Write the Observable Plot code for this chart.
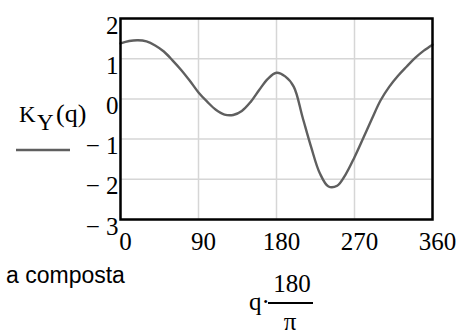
<!DOCTYPE html>
<html>
<head>
<meta charset="utf-8">
<script src="https://cdn.jsdelivr.net/npm/d3@7"></script>
<script src="https://cdn.jsdelivr.net/npm/@observablehq/plot@0.6"></script>
<style>
  html, body { margin: 0; padding: 0; background: #fff; }
  #wrap { position: relative; width: 459px; height: 336px; overflow: hidden; }
  #wrap > svg { position: absolute; left: 0; top: 0; }
  #wrap svg text { font-family: 'Liberation Serif', 'Times New Roman', serif; }
  #wrap svg text.sans { font-family: 'Liberation Sans', Arial, sans-serif; }
</style>
</head>
<body>
<div id="wrap"></div>
<script>
// angle q·180/π in degrees
const angles = [0,10,20,30,40,50,60,70,80,90,100,110,120,130,140,150,160,170,180,
                190,200,210,220,230,240,250,260,270,280,290,300,310,320,330,340,350,360];
// K_Y(q)
const kY = [1.38,1.44,1.46,1.43,1.33,1.18,0.96,0.72,0.45,0.16,-0.07,-0.27,-0.39,-0.40,-0.30,-0.08,0.22,0.50,0.65,
            0.56,0.30,-0.45,-1.20,-1.85,-2.18,-2.16,-1.87,-1.45,-0.98,-0.50,-0.04,0.30,0.57,0.80,1.02,1.20,1.35];
const xTicks = [0, 90, 180, 270, 360];
const yTicks = [-3, -2, -1, 0, 1, 2];
const legendLabel = "K";
const legendSub = "Y";
const legendArg = "(q)";
const captionText = "a composta";
const xLabelVar = "q·";
const xLabelNum = "180";
const xLabelDen = "π";

const data = angles.map((a, i) => ({deg: a, k: kY[i]}));
const serif = "Liberation Serif";
const sans = "Liberation Sans";

const chart = Plot.plot({
  width: 459,
  height: 336,
  marginTop: 18,
  marginBottom: 117,
  marginLeft: 120,
  marginRight: 27,
  style: {fontFamily: serif, fontSize: "25px", background: "white", color: "black"},
  x: {domain: [0, 360]},
  y: {domain: [-3, 2]},
  marks: [
    Plot.gridX(xTicks, {stroke: "#d6d6d6", strokeOpacity: 1, strokeWidth: 1.5}),
    Plot.gridY(yTicks, {stroke: "#d6d6d6", strokeOpacity: 1, strokeWidth: 1.5}),
    Plot.line(data, {x: "deg", y: "k", stroke: "#5f5f5f", strokeWidth: 2.4, curve: "catmull-rom"}),
    Plot.frame({stroke: "black", strokeWidth: 2.5}),
    Plot.axisX(xTicks, {tickSize: 0, tickPadding: 13, dx: 5, label: null, fontSize: 25, fontFamily: serif, fill: "black"}),
    Plot.axisY(yTicks, {tickSize: 0, tickPadding: 2, dy: 7, label: null, fontSize: 25, fontFamily: serif, fill: "black",
      tickFormat: d => d < 0 ? "\u2212 " + Math.abs(d) : String(d)})
  ]
});
const wrap = document.getElementById("wrap");
wrap.appendChild(chart);

// annotation overlay: legend, caption fragment, x-axis expression
const ns = "http://www.w3.org/2000/svg";
const ov = document.createElementNS(ns, "svg");
ov.setAttribute("width", 459);
ov.setAttribute("height", 336);
ov.style.pointerEvents = "none";
function txt(x, y, s, cls, size, anchor) {
  const t = document.createElementNS(ns, "text");
  t.setAttribute("x", x); t.setAttribute("y", y);
  if (cls) t.setAttribute("class", cls);
  t.setAttribute("font-size", size);
  if (anchor) t.setAttribute("text-anchor", anchor);
  t.setAttribute("fill", "black");
  t.textContent = s;
  ov.appendChild(t);
  return t;
}
function ln(x1, y1, x2, y2, stroke, w) {
  const l = document.createElementNS(ns, "line");
  l.setAttribute("x1", x1); l.setAttribute("y1", y1);
  l.setAttribute("x2", x2); l.setAttribute("y2", y2);
  l.setAttribute("stroke", stroke); l.setAttribute("stroke-width", w);
  ov.appendChild(l);
}
// legend
txt(19, 122, legendLabel, null, 23);
txt(37, 130, legendSub, null, 23);
txt(56, 122, legendArg, null, 26);
ln(16, 150, 70, 150, "#5f5f5f", 2.4);
// caption
txt(6, 283, captionText, "sans", 23);
// x expression
txt(249, 310, xLabelVar, null, 25);
txt(292, 292, xLabelNum, null, 25, "middle");
ln(268, 303, 313, 303, "black", 2);
txt(290, 330, xLabelDen, null, 25, "middle");
wrap.appendChild(ov);
</script>
</body>
</html>
